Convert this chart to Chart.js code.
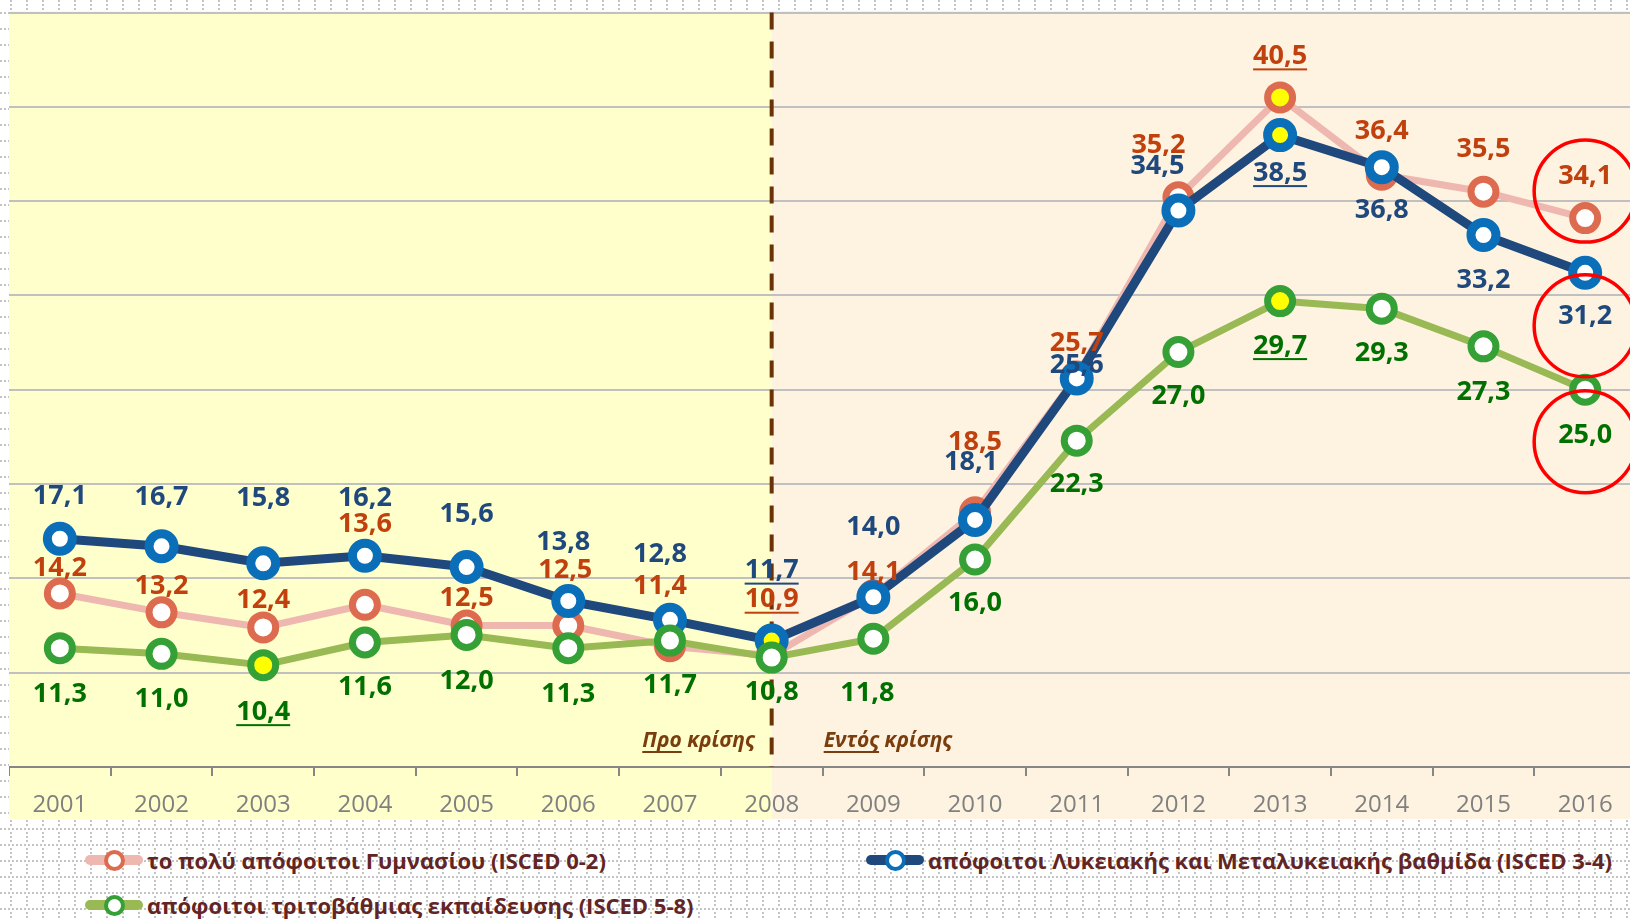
<!DOCTYPE html>
<html>
<head>
<meta charset="utf-8">
<title>Ανεργία κατά εκπαιδευτικό επίπεδο 2001-2016</title>
<style>
    html, body { margin: 0; padding: 0; }
    body {
        width: 1630px; height: 919px; overflow: hidden; position: relative;
        font-family: "Open Sans", sans-serif;
        background: #fff url("data:image/svg+xml;utf8,<svg xmlns='http://www.w3.org/2000/svg' width='16' height='16'><g fill='%23C4C4C4'><rect x='10' y='0' width='2' height='2'/><rect x='10' y='4' width='2' height='2'/><rect x='10' y='8' width='2' height='2'/><rect x='0' y='12' width='2' height='2'/><rect x='4' y='12' width='2' height='2'/><rect x='8' y='12' width='2' height='2'/><rect x='12' y='12' width='2' height='2'/></g></svg>");
    }
    #chart { position: absolute; left: 9px; top: 11px; }
    .item { position: absolute; display: flex; align-items: center; height: 30px;
            font-weight: bold; font-size: 22px; color: #632523; white-space: nowrap; }
    .key { position: relative; width: 58px; height: 30px; margin-right: 4px; }
    .key .ln { position: absolute; left: 0; right: 0; top: 10px; height: 10px; border-radius: 5px; }
    .key .dot { position: absolute; left: 50%; top: 50%; width: 13px; height: 13px;
                margin: -10.5px 0 0 -10.5px; border: 4px solid; border-radius: 50%; background: #fff; }
</style>
<script src="https://cdn.jsdelivr.net/npm/chart.js"></script>
</head>
<body>

<canvas id="chart" width="1627" height="808"></canvas>

<div class="item" style="left:85px; top:845px;">
    <span class="key"><span class="ln" style="background:#EEB8B0"></span><span class="dot" style="border-color:#DD6B50"></span></span>
    το πολύ απόφοιτοι Γυμνασίου (ISCED 0-2)
</div>
<div class="item" style="left:866px; top:845px;">
    <span class="key"><span class="ln" style="background:#1F487C"></span><span class="dot" style="border-color:#0A6FB8"></span></span>
    απόφοιτοι Λυκειακής και Μεταλυκειακής βαθμίδα (ISCED 3-4)
</div>
<div class="item" style="left:85px; top:890px;">
    <span class="key"><span class="ln" style="background:#98B954"></span><span class="dot" style="border-color:#35A035"></span></span>
    απόφοιτοι τριτοβάθμιας εκπαίδευσης (ISCED 5-8)
</div>

<script>
    const years = ['2001','2002','2003','2004','2005','2006','2007','2008',
                   '2009','2010','2011','2012','2013','2014','2015','2016'];
    const lowerSecondary = [14.2, 13.2, 12.4, 13.6, 12.5, 12.5, 11.4, 10.9, 14.1, 18.5, 25.7, 35.2, 40.5, 36.4, 35.5, 34.1];
    const upperSecondary = [17.1, 16.7, 15.8, 16.2, 15.6, 13.8, 12.8, 11.7, 14.0, 18.1, 25.6, 34.5, 38.5, 36.8, 33.2, 31.2];
    const tertiary       = [11.3, 11.0, 10.4, 11.6, 12.0, 11.3, 11.7, 10.8, 11.8, 16.0, 22.3, 27.0, 29.7, 29.3, 27.3, 25.0];
    const crisisYear = '2008';

    // where each value label sits relative to its point (px)
    const labelDy = [
        [-25,-26,-27,-80,-27,-55,-60,-56,-23,-70,-33,-52,-41,-43,-42,-42],
        [-42,-49,-65,-57,-53,-59,-66,-70,-70,-58,-13,-44, 38, 43, 45, 44],
        [ 46, 45, 47, 45, 46, 46, 45, 35, 55, 44, 44, 44, 45, 45, 46, 46]
    ];
    const labelDx = [
        [0,0,0,0,0,-3,-10,0,0,0,0,-20,0,0,0,0],
        [0,0,0,0,0,-5,-10,0,0,-4,0,-21,0,0,0,0],
        [0,0,0,0,0,0,0,0,-6,0,0,0,0,0,0,0]
    ];
    const labelColors = ['#C0400E', '#1F497D', '#007000'];
    const circleDy = [15, 9, 6];

    function extremeFill(arr) {
        const hi = Math.max(...arr), lo = Math.min(...arr);
        return ctx => (arr[ctx.dataIndex] === hi || arr[ctx.dataIndex] === lo) ? '#FFFF00' : '#FFFFFF';
    }

    const decor = {
        id: 'decor',
        beforeDraw(chart) {
            const {ctx, width, height} = chart;
            const split = chart.scales.x.getPixelForValue(years.indexOf(crisisYear));
            ctx.save();
            ctx.fillStyle = '#FFFFCC';
            ctx.fillRect(0, 0, split, height);
            ctx.fillStyle = '#FEF3E0';
            ctx.fillRect(split, 0, width - split, height);
            ctx.restore();
        },
        beforeDatasetsDraw(chart) {
            const {ctx, chartArea} = chart;
            const x = chart.scales.x.getPixelForValue(years.indexOf(crisisYear));
            ctx.save();
            ctx.strokeStyle = '#6B3208';
            ctx.lineWidth = 4;
            ctx.setLineDash([17, 12]);
            ctx.beginPath();
            ctx.moveTo(x, chartArea.top);
            ctx.lineTo(x, chartArea.bottom);
            ctx.stroke();
            ctx.setLineDash([]);

            ctx.font = 'italic bold 21px "Open Sans"';
            ctx.fillStyle = '#7A3E0E';
            ctx.textBaseline = 'middle';
            const y = chartArea.bottom - 26;
            const w1 = ctx.measureText('Προ').width;
            const wAll = ctx.measureText('Προ κρίσης').width;
            const left1 = x - 17 - wAll;
            ctx.textAlign = 'left';
            ctx.fillText('Προ κρίσης', left1, y);
            ctx.fillRect(left1, y + 10, w1, 2);
            const left2 = x + 52;
            const w2 = ctx.measureText('Εντός').width;
            ctx.fillText('Εντός κρίσης', left2, y);
            ctx.fillRect(left2, y + 10, w2, 2);
            ctx.restore();
        },
        afterDatasetsDraw(chart) {
            const {ctx} = chart;
            ctx.save();
            ctx.font = 'bold 27px "Open Sans"';
            ctx.textAlign = 'center';
            ctx.textBaseline = 'middle';
            chart.data.datasets.forEach((ds, i) => {
                const meta = chart.getDatasetMeta(i);
                const hi = Math.max(...ds.data), lo = Math.min(...ds.data);
                ctx.fillStyle = labelColors[i];
                meta.data.forEach((pt, j) => {
                    const v = ds.data[j];
                    const txt = v.toFixed(1).replace('.', ',');
                    const lx = pt.x + labelDx[i][j];
                    const ly = pt.y + labelDy[i][j];
                    ctx.fillText(txt, lx, ly);
                    if (v === hi || v === lo) {
                        const w = ctx.measureText(txt).width;
                        ctx.fillRect(lx - w / 2, ly + 12, w, 2);
                    }
                });
                const last = meta.data.length - 1;
                const p = meta.data[last];
                ctx.beginPath();
                ctx.strokeStyle = '#FF0000';
                ctx.lineWidth = 3.5;
                ctx.arc(p.x + labelDx[i][last], p.y + labelDy[i][last] + circleDy[i], 51, 0, Math.PI * 2);
                ctx.stroke();
            });
            ctx.restore();
        }
    };

    new Chart(document.getElementById('chart'), {
        type: 'line',
        data: {
            labels: years,
            datasets: [
                {
                    label: 'το πολύ απόφοιτοι Γυμνασίου (ISCED 0-2)',
                    data: lowerSecondary,
                    borderColor: '#EEB8B0', borderWidth: 7,
                    pointBorderColor: '#DD6B50',
                    pointBackgroundColor: extremeFill(lowerSecondary),
                    order: 3
                },
                {
                    label: 'απόφοιτοι Λυκειακής και Μεταλυκειακής βαθμίδα (ISCED 3-4)',
                    data: upperSecondary,
                    borderColor: '#1F487C', borderWidth: 9,
                    pointBorderColor: '#0A6FB8',
                    pointBackgroundColor: extremeFill(upperSecondary),
                    order: 2
                },
                {
                    label: 'απόφοιτοι τριτοβάθμιας εκπαίδευσης (ISCED 5-8)',
                    data: tertiary,
                    borderColor: '#98B954', borderWidth: 7,
                    pointBorderColor: '#35A035',
                    pointBackgroundColor: extremeFill(tertiary),
                    order: 1
                }
            ]
        },
        options: {
            responsive: false,
            animation: false,
            layout: { autoPadding: false, padding: { top: 1.5, left: 0, right: 0, bottom: 0 } },
            elements: {
                line: { tension: 0, borderJoinStyle: 'round', borderCapStyle: 'round' },
                point: { radius: 12.5, borderWidth: 4, hoverRadius: 12.5 }
            },
            plugins: {
                legend: { display: false },
                tooltip: { enabled: false }
            },
            scales: {
                x: {
                    offset: true,
                    afterFit(s) { s.height = 52; },
                    grid: { offset: true, drawOnChartArea: false, drawTicks: true, tickLength: 9, color: '#868686', lineWidth: 2 },
                    border: { display: true, color: '#868686', width: 2 },
                    ticks: { color: '#808080', font: { family: '"Open Sans"', size: 24 }, padding: 15, maxRotation: 0 }
                },
                y: {
                    min: 5, max: 45,
                    afterFit(s) { s.width = 0; },
                    ticks: { display: false, stepSize: 5 },
                    border: { display: false },
                    grid: {
                        drawTicks: false, lineWidth: 2,
                        color: ctx => ctx.tick && ctx.tick.value === 5 ? 'rgba(0,0,0,0)' : '#C0C0C0'
                    }
                }
            }
        },
        plugins: [decor]
    });
</script>
</body>
</html>
